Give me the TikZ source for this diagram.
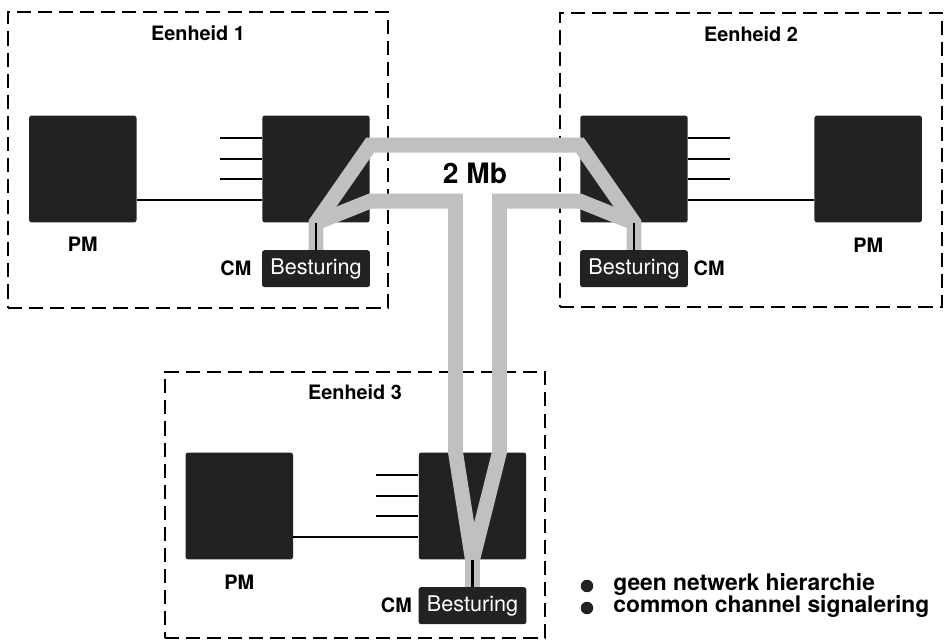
\documentclass[tikz,border=0pt]{standalone}
\usepackage{fontspec}
\setmainfont{TeX Gyre Heros}
\usetikzlibrary{calc,positioning}
\definecolor{blok}{RGB}{34,34,34}
\definecolor{raster}{RGB}{192,192,192}

\begin{document}
\begin{tikzpicture}[x=0.02cm, y=-0.02cm,
    eenheid/.style={draw, line width=1.5pt, dash pattern=on 8pt off 4pt, inner sep=0pt},
    titel/.style={font=\bfseries\fontsize{11.3}{13}\selectfont, inner sep=0pt},
    blok/.style={fill=blok, rounded corners=1.5pt, inner sep=0pt, minimum width=2.15cm, minimum height=2.14cm},
    besturing/.style={fill=blok, text=white, rounded corners=1.5pt, inner sep=0pt,
        minimum width=2.16cm, minimum height=0.74cm, font=\fontsize{12.3}{14}\selectfont},
    lbl/.style={font=\bfseries\fontsize{11.3}{13}\selectfont, inner sep=0pt},
    wire/.style={line width=1.4pt},
    band/.style={draw=raster, line width=8.5pt},
    kern/.style={line width=1.2pt, blok},
    stip/.style={circle, fill=blok, minimum size=0.25cm, inner sep=0pt},
    opsom/.style={font=\bfseries\fontsize{13}{15}\selectfont, inner sep=0pt, anchor=base west}]
    \useasboundingbox (0,0) rectangle (947,641);

    % Units
    \node[eenheid, minimum width=7.6cm, minimum height=5.92cm] (eh1) at (198,160) {};
    \node[eenheid, minimum width=7.64cm, minimum height=5.88cm] (eh2) at (751,160) {};
    \node[eenheid, minimum width=7.6cm, minimum height=5.32cm] (eh3) at (355,505) {};
    \node[titel, below=0.3cm of eh1.north] (t1) {Eenheid 1};
    \node[titel, below=0.3cm of eh2.north] (t2) {Eenheid 2};
    \node[titel, below=0.28cm of eh3.north] (t3) {Eenheid 3};

    % Switches, PM and control
    \node[blok] (sw1) at (316,169) {};
    \node[blok] (sw2) at (634,169) {};
    \node[blok] (sw3) at (472.5,506) {};
    \node[blok, left=2.5cm of sw1] (pm1) {};
    \node[blok, right=2.52cm of sw2] (pm2) {};
    \node[blok, left=2.5cm of sw3] (pm3) {};
    \node[besturing, below=0.54cm of sw1] (be1) {Besturing};
    \node[besturing, below=0.54cm of sw2] (be2) {Besturing};
    \node[besturing, below=0.54cm of sw3] (be3) {Besturing};
    \node[lbl, below=0.27cm of pm1] (pml1) {PM};
    \node[lbl, below=0.3cm of pm2] (pml2) {PM};
    \node[lbl, below=0.3cm of pm3] (pml3) {PM};
    \node[lbl, left=0.2cm of be1] (cm1) {CM};
    \node[lbl, right=0.1cm of be2] (cm2) {CM};
    \node[lbl, left=0.12cm of be3] (cm3) {CM};

    % Lines to the switches
    \foreach \dy in {23,44,64} {
        \draw[wire] ($(sw1.north west)+(0,\dy)$) -- ++(-42,0);
        \draw[wire] ($(sw2.north east)+(0,\dy)$) -- ++(42,0);
        \draw[wire] ($(sw3.north west)+(0,\dy)$) -- ++(-42,0);
    }
    \coordinate (p1) at ($(sw1.north west)+(0,85)$);
    \coordinate (p2) at ($(sw2.north east)+(0,85)$);
    \coordinate (p3) at ($(sw3.north west)+(0,85)$);
    \draw[wire] (p1) -- (p1 -| pm1.east);
    \draw[wire] (p2) -- (p2 -| pm2.west);
    \draw[wire] (p3) -- (p3 -| pm3.east);

    % 2 Mb links
    \coordinate (h1) at ($(sw1.north east)+(0,30)$);
    \coordinate (h2) at ($(sw2.north west)+(0,30)$);
    \coordinate (l1) at ($(sw1.north east)+(0,86)$);
    \coordinate (l2) at ($(sw2.north west)+(0,86)$);
    \coordinate (v1) at ($(sw3.north)+(-17,0)$);
    \coordinate (v2) at ($(sw3.north)+(27,0)$);
    \draw[band] (be1.north) -- (sw1.south) -- (h1) -- (h2) -- (sw2.south) -- (be2.north);
    \draw[band] (sw1.south) -- (l1) -- (v1 |- l1) -- (v1) -- (sw3.south) -- (be3.north);
    \draw[band] (sw2.south) -- (l2) -- (v2 |- l2) -- (v2) -- (sw3.south);
    \draw[kern] (sw1.south) -- (be1.north);
    \draw[kern] (sw2.south) -- (be2.north);
    \draw[kern] (sw3.south) -- (be3.north);
    \node[font=\bfseries\fontsize{16}{18}\selectfont] (mb) at (475,173) {2 Mb};

    % Notes
    \node[stip] (b1) at (587,586) {};
    \node[stip] (b2) at (587,608) {};
    \node[opsom] (o1) at (613,591) {geen netwerk hierarchie};
    \node[opsom] (o2) at (613,613) {common channel signalering};
\end{tikzpicture}
\end{document}
